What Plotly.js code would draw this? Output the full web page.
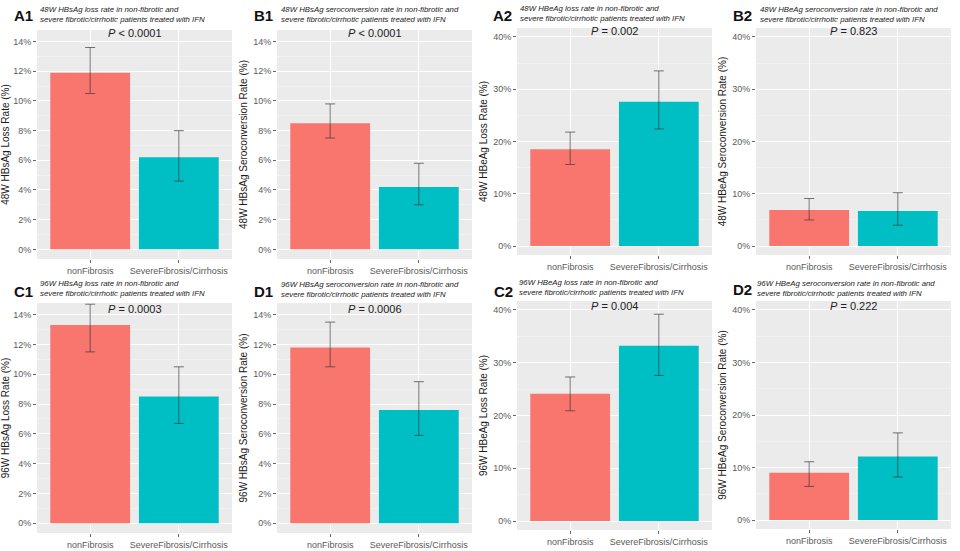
<!DOCTYPE html>
<html>
<head>
<meta charset="utf-8">
<script src="https://cdn.plot.ly/plotly-3.0.1.min.js"></script>
<style>html,body{margin:0;padding:0;background:#fff;}#chart{width:960px;height:551px;}</style>
</head>
<body>
<div id="chart"></div>
<script>
// ---- Data ----
const categories = ['nonFibrosis', 'SevereFibrosis/Cirrhosis'];

const panelLabels = ['A1', 'B1', 'A2', 'B2', 'C1', 'D1', 'C2', 'D2'];
const subtitleLine1 = [
  '48W HBsAg loss rate in non-fibrotic and',
  '48W HBsAg seroconversion rate in non-fibrotic and',
  '48W HBeAg loss rate in non-fibrotic and',
  '48W HBeAg seroconversion rate in non-fibrotic and',
  '96W HBsAg loss rate in non-fibrotic and',
  '96W HBsAg seroconversion rate in non-fibrotic and',
  '96W HBeAg loss rate in non-fibrotic and',
  '96W HBeAg seroconversion rate in non-fibrotic and'
];
const subtitleLine2 = 'severe fibrotic/cirrhotic patients treated with IFN';
const yTitles = [
  '48W HBsAg Loss Rate (%)',
  '48W HBsAg Seroconversion Rate (%)',
  '48W HBeAg Loss Rate (%)',
  '48W HBeAg Seroconversion Rate (%)',
  '96W HBsAg Loss Rate (%)',
  '96W HBsAg Seroconversion Rate (%)',
  '96W HBeAg Loss Rate (%)',
  '96W HBeAg Seroconversion Rate (%)'
];
const pValues = ['&lt; 0.0001', '&lt; 0.0001', '= 0.002', '= 0.823', '= 0.0003', '= 0.0006', '= 0.004', '= 0.222'];

// rates (%) for [nonFibrosis, SevereFibrosis/Cirrhosis], with lower / upper CI
const a1Rate = [11.9, 6.2];  const a1Low = [10.5, 4.6];  const a1High = [13.6, 8.0];
const b1Rate = [8.5, 4.2];   const b1Low = [7.5, 3.0];   const b1High = [9.8, 5.8];
const a2Rate = [18.5, 27.6]; const a2Low = [15.6, 22.4]; const a2High = [21.8, 33.5];
const b2Rate = [6.9, 6.7];   const b2Low = [5.0, 4.0];   const b2High = [9.1, 10.2];
const c1Rate = [13.3, 8.5];  const c1Low = [11.5, 6.7];  const c1High = [14.7, 10.5];
const d1Rate = [11.8, 7.6];  const d1Low = [10.5, 5.9];  const d1High = [13.5, 9.5];
const c2Rate = [24.1, 33.2]; const c2Low = [20.9, 27.6]; const c2High = [27.3, 39.2];
const d2Rate = [9.0, 12.1];  const d2Low = [6.4, 8.2];   const d2High = [11.1, 16.6];

const rates = [a1Rate, b1Rate, a2Rate, b2Rate, c1Rate, d1Rate, c2Rate, d2Rate];
const lows  = [a1Low, b1Low, a2Low, b2Low, c1Low, d1Low, c2Low, d2Low];
const highs = [a1High, b1High, a2High, b2High, c1High, d1High, c2High, d2High];

// ---- Layout geometry (pixels) ----
const W = 960, H = 551;
const boxes = [
  {x0: 37,  x1: 232, y0: 30,  y1: 259},
  {x0: 277, x1: 472, y0: 30,  y1: 259},
  {x0: 517, x1: 712, y0: 28,  y1: 255},
  {x0: 756, x1: 951, y0: 28,  y1: 255},
  {x0: 37,  x1: 232, y0: 303, y1: 533},
  {x0: 277, x1: 472, y0: 303, y1: 533},
  {x0: 517, x1: 712, y0: 301, y1: 530},
  {x0: 756, x1: 951, y0: 301, y1: 529}
];
const small = [true, true, false, false, true, true, false, false];
const labelPos = [[12,15],[252,15],[491,15],[731,15],[12,291],[252,291],[492,291],[731,289]];
const subPos = [[38,14.8],[279,14.8],[518,13.8],[758,14.3],[38,288.8],[279,289.3],[517,287.6],[755,288.8]];
const pY = [33.3, 33.3, 31, 30.7, 309, 309, 306, 306];

const colors = ['#F8766D', '#00BFC4'];
const px = x => x / W;
const py = y => 1 - y / H;

const traces = [];
const layout = {
  width: W, height: H,
  margin: {l: 0, r: 0, t: 0, b: 0},
  paper_bgcolor: '#ffffff',
  plot_bgcolor: '#EBEBEB',
  showlegend: false,
  font: {family: 'Liberation Sans, Arial, sans-serif', color: '#222'},
  annotations: []
};

for (let i = 0; i < 8; i++) {
  const n = i === 0 ? '' : String(i + 1);
  const b = boxes[i];
  traces.push({
    type: 'bar',
    x: categories,
    y: rates[i],
    xaxis: 'x' + n,
    yaxis: 'y' + n,
    width: 0.9,
    marker: {color: colors, line: {width: 0}},
    error_y: {
      type: 'data', symmetric: false,
      array: rates[i].map((v, k) => highs[i][k] - v),
      arrayminus: rates[i].map((v, k) => v - lows[i][k]),
      color: 'rgba(60,60,60,0.7)', thickness: 1, width: 5
    },
    hoverinfo: 'x+y'
  });
  layout['xaxis' + n] = {
    domain: [px(b.x0), px(b.x1)],
    anchor: 'y' + n,
    type: 'category',
    range: [-0.6, 1.6],
    showgrid: true, gridcolor: '#ffffff', gridwidth: 1,
    zeroline: false, showline: false,
    ticks: 'outside', ticklen: 3, tickcolor: '#666', tickwidth: 1,
    tickfont: {size: 9, color: '#5a5a5a'},
    fixedrange: true
  };
  layout['yaxis' + n] = {
    domain: [py(b.y1), py(b.y0)],
    anchor: 'x' + n,
    range: small[i] ? [-0.65, 14.78] : [-1.7, 41.7],
    tick0: 0, dtick: small[i] ? 2 : 10,
    ticksuffix: '%',
    showgrid: true, gridcolor: '#ffffff', gridwidth: 1,
    minor: {dtick: small[i] ? 1 : 5, showgrid: true, gridcolor: 'rgba(255,255,255,0.65)', gridwidth: 0.5},
    zeroline: false, showline: false,
    ticks: 'outside', ticklen: 3, tickcolor: '#666', tickwidth: 1,
    tickfont: {size: 9, color: '#5a5a5a'},
    title: {text: yTitles[i], font: {size: 10, color: '#1a1a1a'}, standoff: 3},
    fixedrange: true
  };
  layout.annotations.push({
    xref: 'paper', yref: 'paper', x: px(labelPos[i][0]), y: py(labelPos[i][1]),
    xanchor: 'left', yanchor: 'middle', showarrow: false,
    text: '<b>' + panelLabels[i] + '</b>', font: {size: 15, color: '#111'}
  });
  layout.annotations.push({
    xref: 'paper', yref: 'paper', x: px(subPos[i][0]), y: py(subPos[i][1]),
    xanchor: 'left', yanchor: 'middle', align: 'left', showarrow: false,
    text: '<i>' + subtitleLine1[i] + '<br>' + subtitleLine2 + '</i>',
    font: {size: 7.8, color: '#222'}
  });
  layout.annotations.push({
    xref: 'paper', yref: 'paper', x: px((b.x0 + b.x1) / 2), y: py(pY[i]),
    xanchor: 'center', yanchor: 'middle', showarrow: false,
    text: '<i>P</i> ' + pValues[i], font: {size: 11, color: '#222'}
  });
}

Plotly.newPlot('chart', traces, layout, {displayModeBar: false, staticPlot: true});
</script>
</body>
</html>
